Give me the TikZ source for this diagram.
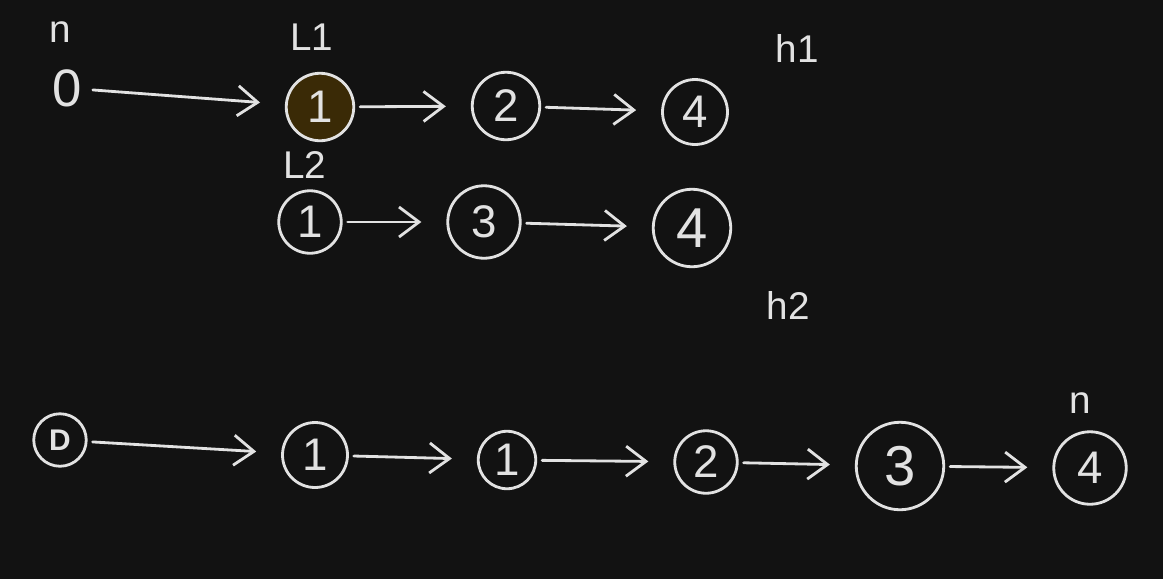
\documentclass[tikz,border=0pt]{standalone}
\usepackage{fontspec}
\setmainfont{Liberation Sans}
\usepackage{xcolor}
\definecolor{vizBack}{HTML}{121212}
\definecolor{vizInk}{HTML}{E2E2E2}
\definecolor{vizHead}{HTML}{3A2A06}
\usetikzlibrary{arrows.meta}

\tikzset{
  vizNode/.style={circle, draw=vizInk, line width=1.6pt, text=vizInk, inner sep=0pt, font=\fontsize{26}{28}\selectfont},
  vizLabel/.style={text=vizInk, font=\fontsize{22}{24}\selectfont},
  vizEdge/.style={vizInk, line width=1.6pt, line cap=round, -{Straight Barb[length=4mm, width=6mm, line width=1.6pt]}, shorten >=5mm, shorten <=1mm}
}

\begin{document}
\begin{tikzpicture}[x=0.02cm, y=-0.02cm]
  \fill[vizBack] (0,0) rectangle (1163,579);
  % first list
  \node[vizLabel, font=\fontsize{30}{32}\selectfont] (a0) at (67,88) {0};
  \node[vizNode, minimum size=1.35cm, fill=vizHead] (a1) at (320,107) {1};
  \node[vizNode, minimum size=1.35cm] (a2) at (506,106) {2};
  \node[vizNode, minimum size=1.3cm] (a4) at (695,112) {4};
  \node[vizLabel] (lblN) at (60,32) {n};
  \node[vizLabel] (lblL1) at (312,37) {L1};
  \node[vizLabel] (lblH1) at (797,48) {h1};
  \draw[vizEdge] (a0) -- (a1);
  \draw[vizEdge] (a1) -- (a2);
  \draw[vizEdge] (a2) -- (a4);
  % second list
  \node[vizNode, minimum size=1.25cm] (b1) at (310,222) {1};
  \node[vizNode, minimum size=1.45cm] (b3) at (484,222) {3};
  \node[vizNode, minimum size=1.55cm, font=\fontsize{32}{34}\selectfont] (b4) at (692,228) {4};
  \node[vizLabel] (lblL2) at (305,165) {L2};
  \node[vizLabel] (lblH2) at (788,305) {h2};
  \draw[vizEdge] (b1) -- (b3);
  \draw[vizEdge] (b3) -- (b4);
  % merged list
  \node[vizNode, minimum size=1.05cm, font=\fontsize{17}{19}\bfseries] (d) at (60,440) {D};
  \node[vizNode, minimum size=1.3cm] (c1) at (315,455) {1};
  \node[vizNode, minimum size=1.15cm] (c1b) at (507,460) {1};
  \node[vizNode, minimum size=1.25cm] (c2) at (706,462) {2};
  \node[vizNode, minimum size=1.75cm, font=\fontsize{32}{34}\selectfont] (c3) at (900,466) {3};
  \node[vizNode, minimum size=1.45cm] (c4) at (1090,468) {4};
  \node[vizLabel] (lblN2) at (1080,403) {n};
  \draw[vizEdge] (d) -- (c1);
  \draw[vizEdge] (c1) -- (c1b);
  \draw[vizEdge] (c1b) -- (c2);
  \draw[vizEdge] (c2) -- (c3);
  \draw[vizEdge] (c3) -- (c4);
\end{tikzpicture}
\end{document}
